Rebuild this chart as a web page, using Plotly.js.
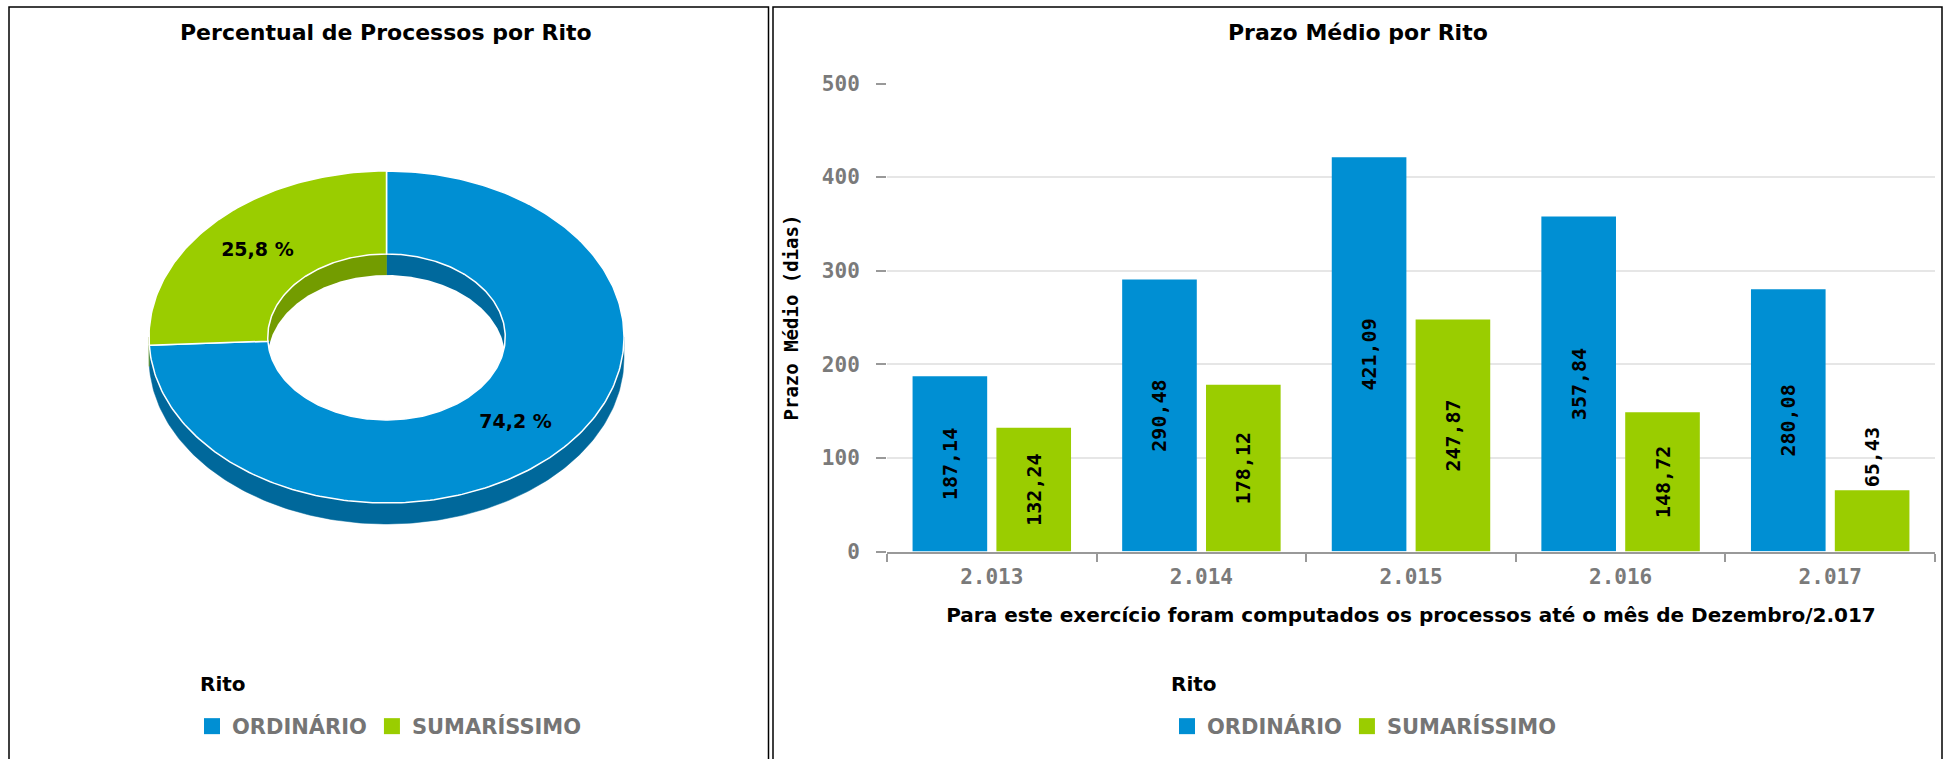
<!DOCTYPE html>
<html><head><meta charset="utf-8">
<script src="https://cdn.plot.ly/plotly-3.0.1.min.js"></script>
<style>html,body{margin:0;padding:0;background:#fff}#chart{width:1950px;height:759px}</style>
</head><body><div id="chart"></div>
<script>
// ---------- data ----------
const ritos = ['ORDINÁRIO', 'SUMARÍSSIMO'];
const percentual = [74.2, 25.8];
const anos = ['2.013', '2.014', '2.015', '2.016', '2.017'];
const prazoOrdinario = [187.14, 290.48, 421.09, 357.84, 280.08];
const prazoSumarissimo = [132.24, 178.12, 247.87, 148.72, 65.43];

// ---------- style ----------
const corTopo = ['#008fd3', '#9acd00'];
const corLado = ['#00689b', '#709a00'];
const corParede = ['#00699d', '#739c00'];

// donut geometry in pixel units of axes x2/y2
const G = {cx: 386.5, cy: 337, rx: 237.5, ry: 166, hole: 0.5, depth: 21};
const deg = Math.PI / 180;
function pt(t, r, dy) { return [G.cx + G.rx * r * Math.cos(t * deg), G.cy - G.ry * r * Math.sin(t * deg) + (dy || 0)]; }
function arc(t1, t2, r, dy) {
  const xs = [], ys = [];
  const n = Math.max(2, Math.ceil(Math.abs(t2 - t1) / 1.0));
  for (let i = 0; i <= n; i++) { const p = pt(t1 + (t2 - t1) * i / n, r, dy); xs.push(p[0]); ys.push(p[1]); }
  return [xs, ys];
}
function poly(parts) { let xs = [], ys = []; parts.forEach(p => { xs = xs.concat(p[0]); ys = ys.concat(p[1]); }); xs.push(xs[0]); ys.push(ys[0]); return [xs, ys]; }

const total = percentual.reduce((a, b) => a + b, 0);
const slices = [];
let ang = 90;
percentual.forEach((v, i) => { const end = ang - 360 * v / total; slices.push({i, start: ang, end}); ang = end; });

const traces = [];
const base = {type: 'scatter', mode: 'lines', fill: 'toself', xaxis: 'x2', yaxis: 'y2', showlegend: false, hoverinfo: 'skip'};

// outer side walls (lower half only)
slices.forEach(s => {
  [-1, 0, 1].forEach(k => {
    const lo = Math.max(s.end, -180 + 360 * k), hi = Math.min(s.start, 360 * k);
    if (hi > lo) {
      const p = poly([arc(lo, hi, 1, 0), arc(hi, lo, 1, G.depth)]);
      traces.push(Object.assign({}, base, {x: p[0], y: p[1], fillcolor: corLado[s.i], line: {color: corLado[s.i], width: 0.5}}));
    }
  });
});
// inner walls (sectors of the hole), then the see-through opening
slices.forEach(s => {
  const a = arc(s.start, s.end, G.hole, 0);
  const p = poly([[[G.cx], [G.cy]], a]);
  traces.push(Object.assign({}, base, {x: p[0], y: p[1], fillcolor: corParede[s.i], line: {color: corParede[s.i], width: 0.5}}));
});
{
  const p = poly([arc(0, 360, G.hole, G.depth)]);
  traces.push(Object.assign({}, base, {x: p[0], y: p[1], fillcolor: '#ffffff', line: {color: '#ffffff', width: 0}}));
}
// top faces
slices.forEach(s => {
  const p = poly([arc(s.start, s.end, 1, 0), arc(s.end, s.start, G.hole, 0)]);
  traces.push(Object.assign({}, base, {x: p[0], y: p[1], fillcolor: corTopo[s.i], line: {color: '#ffffff', width: 1.5}, name: ritos[s.i]}));
});
// slice labels
{
  const lx = [], ly = [], lt = [];
  slices.forEach(s => { const m = (s.start + s.end) / 2; const p = pt(m, (1 + G.hole) / 2, 0); lx.push(p[0]); ly.push(p[1]); lt.push(percentual[s.i].toFixed(1).replace('.', ',') + ' %'); });
  traces.push({type: 'scatter', mode: 'text', x: lx, y: ly, text: lt, xaxis: 'x2', yaxis: 'y2', showlegend: false, hoverinfo: 'skip',
    textfont: {family: 'DejaVu Sans', size: 19, color: '#000', weight: 700}});
}
// legend entries for the donut
ritos.forEach((r, i) => traces.push({type: 'scatter', mode: 'markers', x: [null], y: [null], xaxis: 'x2', yaxis: 'y2', name: r, legend: 'legend',
  marker: {symbol: 'square', size: 17, color: corTopo[i]}}));

// bars
const barText = {family: 'DejaVu Sans Mono', size: 20, color: '#000', weight: 700};
traces.push({type: 'bar', x: anos, y: prazoOrdinario, name: ritos[0], marker: {color: corTopo[0]}, xaxis: 'x', yaxis: 'y', showlegend: false,
  texttemplate: '%{y:.2f}', textposition: 'inside', insidetextanchor: 'middle', textangle: -90, textfont: barText, constraintext: 'none'});
traces.push({type: 'bar', x: anos, y: prazoSumarissimo, name: ritos[1], marker: {color: corTopo[1]}, xaxis: 'x', yaxis: 'y', showlegend: false,
  texttemplate: '%{y:.2f}', textposition: ['inside', 'inside', 'inside', 'inside', 'outside'], insidetextanchor: 'middle', textangle: -90, textfont: barText, constraintext: 'none', cliponaxis: false});
ritos.forEach((r, i) => traces.push({type: 'scatter', mode: 'markers', x: [null], y: [null], xaxis: 'x', yaxis: 'y', name: r, legend: 'legend2',
  marker: {symbol: 'square', size: 17, color: corTopo[i]}}));

const W = 1950, H = 759;
const legendBase = {orientation: 'h', xanchor: 'left', yanchor: 'top', bgcolor: 'rgba(0,0,0,0)',
  font: {family: 'DejaVu Sans', size: 21, color: '#757575', weight: 700}, itemclick: false, itemdoubleclick: false};
const tituloLegenda = {text: 'Rito', xref: 'paper', yref: 'paper', xanchor: 'left', yanchor: 'middle', showarrow: false,
  font: {family: 'DejaVu Sans', size: 20, color: '#000', weight: 700}};

const layout = {
  width: W, height: H, margin: {l: 0, r: 0, t: 0, b: 0}, paper_bgcolor: '#fff', plot_bgcolor: 'rgba(0,0,0,0)',
  font: {family: 'DejaVu Sans', color: '#000'}, separators: ',.',
  barmode: 'group', bargap: 0.2, bargroupgap: 0.11,
  xaxis: {domain: [887 / W, 1935 / W], anchor: 'y', type: 'category', tickson: 'boundaries', ticks: 'outside', ticklen: 8, tickwidth: 2, tickcolor: '#999',
    showline: true, linecolor: '#999', linewidth: 2, showgrid: false, fixedrange: true, ticklabelstandoff: 5,
    tickfont: {family: 'DejaVu Sans Mono', size: 21, color: '#7a7a7a', weight: 700},
    title: {text: 'Para este exercício foram computados os processos até o mês de Dezembro/2.017', standoff: 20,
      font: {family: 'DejaVu Sans', size: 20, color: '#000', weight: 700}}},
  yaxis: {domain: [(H - 551.5) / H, (H - 83.5) / H], anchor: 'x', range: [0, 500], dtick: 100, ticks: 'outside', ticklen: 10, tickwidth: 2, tickcolor: '#999',
    showline: false, gridcolor: '#e6e6e6', gridwidth: 2, zeroline: false, fixedrange: true, ticklabelstandoff: 12,
    tickfont: {family: 'DejaVu Sans Mono', size: 21, color: '#7a7a7a', weight: 700},
    title: {text: 'Prazo Médio (dias)', standoff: 18, font: {family: 'DejaVu Sans Mono', size: 19, color: '#000', weight: 700}}},
  xaxis2: {domain: [0, 770 / W], range: [0, 770], visible: false, anchor: 'y2', fixedrange: true},
  yaxis2: {domain: [0, 1], range: [H, 0], visible: false, anchor: 'x2', fixedrange: true},
  legend: Object.assign({}, legendBase, {x: 192 / W, y: 1 - 706 / H}),
  legend2: Object.assign({}, legendBase, {x: 1167 / W, y: 1 - 706 / H}),
  annotations: [
    {text: 'Percentual de Processos por Rito', x: 386 / W, y: 1 - 33 / H, xref: 'paper', yref: 'paper', xanchor: 'center', yanchor: 'middle', showarrow: false,
      font: {family: 'DejaVu Sans', size: 22, color: '#000', weight: 700}},
    {text: 'Prazo Médio por Rito', x: 1358 / W, y: 1 - 33 / H, xref: 'paper', yref: 'paper', xanchor: 'center', yanchor: 'middle', showarrow: false,
      font: {family: 'DejaVu Sans', size: 22, color: '#000', weight: 700}},
    Object.assign({}, tituloLegenda, {x: 198 / W, y: 1 - 684 / H}),
    Object.assign({}, tituloLegenda, {x: 1169 / W, y: 1 - 684 / H})
  ],
  shapes: [
    {type: 'rect', xref: 'paper', yref: 'paper', x0: 9 / W, x1: 768.5 / W, y0: -0.05, y1: 1 - 7 / H, line: {color: '#000', width: 1.5}, layer: 'below'},
    {type: 'rect', xref: 'paper', yref: 'paper', x0: 773 / W, x1: 1942 / W, y0: -0.05, y1: 1 - 7 / H, line: {color: '#000', width: 1.5}, layer: 'below'}
  ]
};

Plotly.newPlot('chart', traces, layout, {displayModeBar: false, staticPlot: true});
</script>
</body></html>
